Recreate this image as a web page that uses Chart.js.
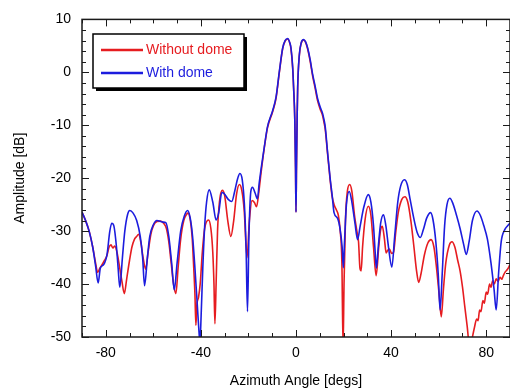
<!DOCTYPE html>
<html>
<head>
<meta charset="utf-8">
<script src="https://cdn.jsdelivr.net/npm/chart.js@4"></script>
<style>
body{margin:0;background:#fff}
canvas{display:block}
</style>
</head>
<body>
<canvas id="beamChart" width="510" height="388"></canvas>
<script>
// pattern without dome (red)
const angleNoDome=[-90,-88.5,-87,-85.5,-84.3,-83.4,-82.5,-81.5,-80.5,-79.5,-78.6,-77.8,-77,-76.2,-75.3,-74.3,-73.2,-72.2,-71.2,-70,-69,-68,-67,-66.2,-65.3,-64.3,-63.2,-62.2,-61,-60,-58.5,-57,-55.5,-54.5,-53.5,-52.5,-51.5,-50.5,-49.6,-48.5,-47.2,-46,-45.4,-44.5,-43.7,-43,-42.5,-42.1,-41.7,-41,-40.3,-39.4,-38.4,-36.8,-35.8,-35,-34.5,-34.1,-33.6,-33,-32.2,-31,-30,-28.7,-27.4,-26.2,-25,-23.8,-22.8,-21.8,-20.6,-19.6,-18.5,-17.5,-16.6,-15.6,-14.7,-13.3,-12,-9.8,-8.4,-7,-5.6,-4.6,-3.5,-2.6,-2.1,-1.4,-1,-0.5,-0.2,0,0.2,0.5,0.7,1.4,2.2,3.2,4,4.9,6,7,8,9.1,10.2,11.2,11.8,12.3,13.3,14.4,15.2,16.1,17,17.8,18.6,19.3,19.8,20.2,20.8,21.6,22.6,23.5,24.6,25.6,26.3,26.9,27.4,28,29,30.4,31.5,32.6,33.7,34.8,35.5,36.3,37.2,37.9,38.6,39.3,40.2,41,42,43,44.5,45.8,47,48.3,49.6,50.7,51.6,52.6,54,55.5,56.8,58,59,60.2,61.1,62,63,64.5,65.6,66.8,68,69,70,71,72,72.8,73.8,74.3,75,76,76.6,77.2,77.8,78.6,79.2,80,80.6,81.4,82,82.7,83.4,84.2,85,85.8,86.5,87.2,88,88.8,89.5,90]
const ampNoDome=[-26.4,-28,-30,-33,-36,-37.8,-37,-36.3,-35.5,-34.6,-33,-32.6,-33.2,-32.8,-34,-36.5,-39.5,-41.8,-39,-35.5,-33,-31.6,-31,-30.6,-32,-35,-37.2,-34,-30.5,-29,-28.2,-28.1,-28.6,-29.5,-32,-36,-40,-41.8,-37,-31.5,-28,-26.8,-26.6,-27.8,-31,-37,-42,-47.8,-44,-42.5,-40,-34,-29.5,-27.9,-29.5,-34,-40,-47.5,-40,-30,-24.5,-22.3,-23.3,-28,-31,-28,-23,-21.2,-22.3,-26,-35,-28,-24.2,-24.6,-25.4,-22.5,-19,-14.2,-10.5,-7.4,-4.9,0,4.5,5.9,6.3,5.5,4.4,0.8,-3,-9,-18,-26.4,-18,-8,-3,3.2,5.5,6.1,5.7,4.4,2,-0.7,-2.9,-5.4,-7,-8.2,-9.5,-10.8,-15.5,-20.5,-23.5,-25.1,-26,-27,-30,-36,-52,-40,-28,-22.5,-21.2,-22.5,-27,-30,-32,-37,-37.5,-33,-28,-25.3,-27,-33,-38.4,-33,-30,-29.1,-31.5,-34.1,-33.6,-33.4,-34.2,-34,-30,-26.5,-24,-23.5,-24.5,-28,-33,-37.5,-39.7,-38,-34.5,-32.2,-31.6,-33,-36.5,-42,-46.2,-41,-36,-32.6,-32,-33,-35.5,-37.5,-40.5,-44.3,-48,-51,-51,-49.8,-48.3,-46.6,-46.9,-44.9,-45.2,-43.1,-43.6,-41.5,-41.9,-40,-40.6,-39.4,-40,-39,-39.5,-38.7,-39.1,-38.4,-37.7,-37.3,-36.8,-36.3]

// pattern with dome (blue)
const angleDome=[-90,-88.5,-87,-85.5,-84.3,-83.2,-82.3,-81.3,-80.5,-79.5,-78.3,-77.5,-76.6,-75.5,-74.8,-74.1,-73,-72,-70.8,-69.9,-68.5,-67,-65.5,-64.5,-63.7,-62.5,-61.5,-60,-58.5,-56,-54.7,-53.5,-52.3,-51.2,-50,-48.5,-47,-45.6,-44.5,-43.5,-42.5,-41.5,-40.8,-40.4,-39.9,-39.2,-38.4,-37.6,-36.5,-35,-33.6,-32.5,-31.2,-30.2,-28.5,-27,-25.8,-24.5,-23.6,-22.6,-21.7,-21,-20.4,-19.8,-19,-18.3,-17.2,-16.2,-15.5,-14.7,-13.3,-12,-9.8,-8.4,-7,-5.6,-4.6,-3.5,-2.6,-2.1,-1.4,-1,-0.5,-0.2,0,0.2,0.5,0.7,1.4,2.2,3.2,4,4.9,6,7,8,9.1,10.2,11.2,11.8,12.3,13.3,14.4,15.2,16,17.5,18.5,19.4,19.9,20.4,21.2,22.4,23.5,24.8,25.9,27,28.5,30.4,31.5,32.6,33.3,33.8,34.6,35.6,36.8,37.8,38.9,40.3,41.5,42.8,44,45.6,46.8,48,49.5,51,52.3,53.5,55,56.6,57.6,58.8,59.8,60.6,61.5,62.5,63.5,64.7,66,67.5,69,70.5,71.6,72.8,74.2,76.1,77.5,79,80.5,82,83.3,84.2,85.2,86.3,87.7,89,90]
const ampDome=[-26.4,-28,-30,-33,-36.5,-39.8,-37,-36.5,-36,-34.5,-30,-28.5,-29,-33,-37,-40.6,-35,-30,-26.8,-26.1,-26.6,-28,-31,-35,-40.3,-35,-31,-28.8,-28,-28.3,-28.4,-31,-36,-41.1,-36,-30,-27.2,-26.1,-27.5,-31,-37,-44,-49,-51,-46,-37,-29,-24.5,-22.2,-24.5,-27.9,-26.5,-22.7,-22.9,-24,-24.4,-22.5,-20,-19.1,-20.3,-25,-33,-45.2,-31,-22.5,-21.7,-22.8,-23.9,-21,-18.3,-14,-10.3,-7.2,-4.7,0.2,4.6,6,6.4,5.6,4.6,1,-2.9,-9,-18,-26.4,-18,-8,-2.9,3.3,5.6,6.2,5.8,4.6,2.3,-0.4,-2.5,-5,-6.6,-7.8,-9,-10.3,-15.2,-20.2,-23.2,-26.5,-27.6,-29.5,-33,-36.9,-32,-25,-22.5,-24.5,-28.5,-31.6,-29,-25.5,-23.1,-24.5,-29,-34,-37,-33,-28.5,-26.9,-29,-33,-36.8,-31,-24.5,-21.5,-20.3,-21.2,-24,-27.5,-30.3,-31.2,-29.8,-27.5,-26.5,-27.8,-32,-38,-44.9,-38,-29,-25,-23.8,-24.8,-27,-29.5,-32.5,-34.4,-32,-28,-26.2,-27,-29,-31.5,-36,-41,-44.9,-38,-32,-29.8,-29,-28.5]

const xTicks=[-80,-40,0,40,80]
const yTicks=[10,0,-10,-20,-30,-40,-50]
const labels=["Without dome","With dome"]
const colors=["rgb(230,28,32)","rgb(28,28,222)"]

const font={family:"'Liberation Sans', Arial, sans-serif",size:14}

function pts(xs,ys){
return xs.map((v,i)=>({x:v,y:ys[i]}))
}

// frame with inward ticks on all four sides, plus the boxed legend
const framePlugin={
id:"frame",
afterDatasetsDraw(chart){
const {ctx,chartArea:a,scales:{x,y}}=chart
ctx.save()
ctx.strokeStyle="#1a1a1a"
ctx.lineWidth=1.5
ctx.strokeRect(a.left,a.top,a.right-a.left,a.bottom-a.top)
ctx.lineWidth=1
ctx.beginPath()
for(let v=x.min;v<=x.max;v+=10){
let px=Math.round(x.getPixelForValue(v))+0.5
let len=xTicks.includes(v)?7:4
ctx.moveTo(px,a.bottom);ctx.lineTo(px,a.bottom-len)
ctx.moveTo(px,a.top);ctx.lineTo(px,a.top+len)
}
for(let v=y.min;v<=y.max;v+=2){
let py=Math.round(y.getPixelForValue(v))+0.5
let len=yTicks.includes(v)?7:4
ctx.moveTo(a.left,py);ctx.lineTo(a.left+len,py)
ctx.moveTo(a.right,py);ctx.lineTo(a.right-len,py)
}
ctx.stroke()

// legend box with drop shadow
let lx=93,ly=34,lw=151,lh=54
ctx.fillStyle="#000"
ctx.fillRect(lx+3,ly+3,lw,lh)
ctx.fillStyle="#fff"
ctx.fillRect(lx,ly,lw,lh)
ctx.lineWidth=1.5
ctx.strokeStyle="#000"
ctx.strokeRect(lx,ly,lw,lh)
ctx.font="14px "+font.family
ctx.textBaseline="middle"
chart.data.datasets.forEach((ds,i)=>{
let yy=ly+16+i*23
ctx.strokeStyle=ds.borderColor
ctx.lineWidth=2.5
ctx.beginPath()
ctx.moveTo(lx+8,yy);ctx.lineTo(lx+50,yy)
ctx.stroke()
ctx.fillStyle=ds.borderColor
ctx.fillText(ds.label,lx+53,yy)
})
ctx.restore()
}
}

new Chart(document.getElementById("beamChart"),{
type:"line",
data:{
datasets:[
{label:labels[0],data:pts(angleNoDome,ampNoDome),borderColor:colors[0],order:2},
{label:labels[1],data:pts(angleDome,ampDome),borderColor:colors[1],order:1}
]
},
options:{
responsive:false,
animation:false,
layout:{padding:{top:14,right:-2,left:0,bottom:0}},
elements:{
point:{radius:0},
line:{borderWidth:1.6,cubicInterpolationMode:"monotone"}
},
plugins:{legend:{display:false},tooltip:{enabled:false}},
scales:{
x:{
type:"linear",min:-90,max:90,
grid:{display:false,drawTicks:false},
border:{display:false},
afterBuildTicks:s=>{s.ticks=xTicks.map(v=>({value:v}))},
afterFit:s=>{s.height=51},
ticks:{font:font,color:"#000",padding:8,maxRotation:0,autoSkip:false},
title:{display:true,text:"Azimuth Angle [degs]",font:font,color:"#000",padding:{top:0,bottom:-2}}
},
y:{
min:-50,max:10,
grid:{display:false,drawTicks:false},
border:{display:false},
afterBuildTicks:s=>{s.ticks=yTicks.map(v=>({value:v}))},
afterFit:s=>{s.width=82},
ticks:{font:font,color:"#000",padding:11},
title:{display:true,text:"Amplitude [dB]",font:font,color:"#000",padding:{top:12,bottom:0}}
}
}
},
plugins:[framePlugin]
})
</script>
</body>
</html>
